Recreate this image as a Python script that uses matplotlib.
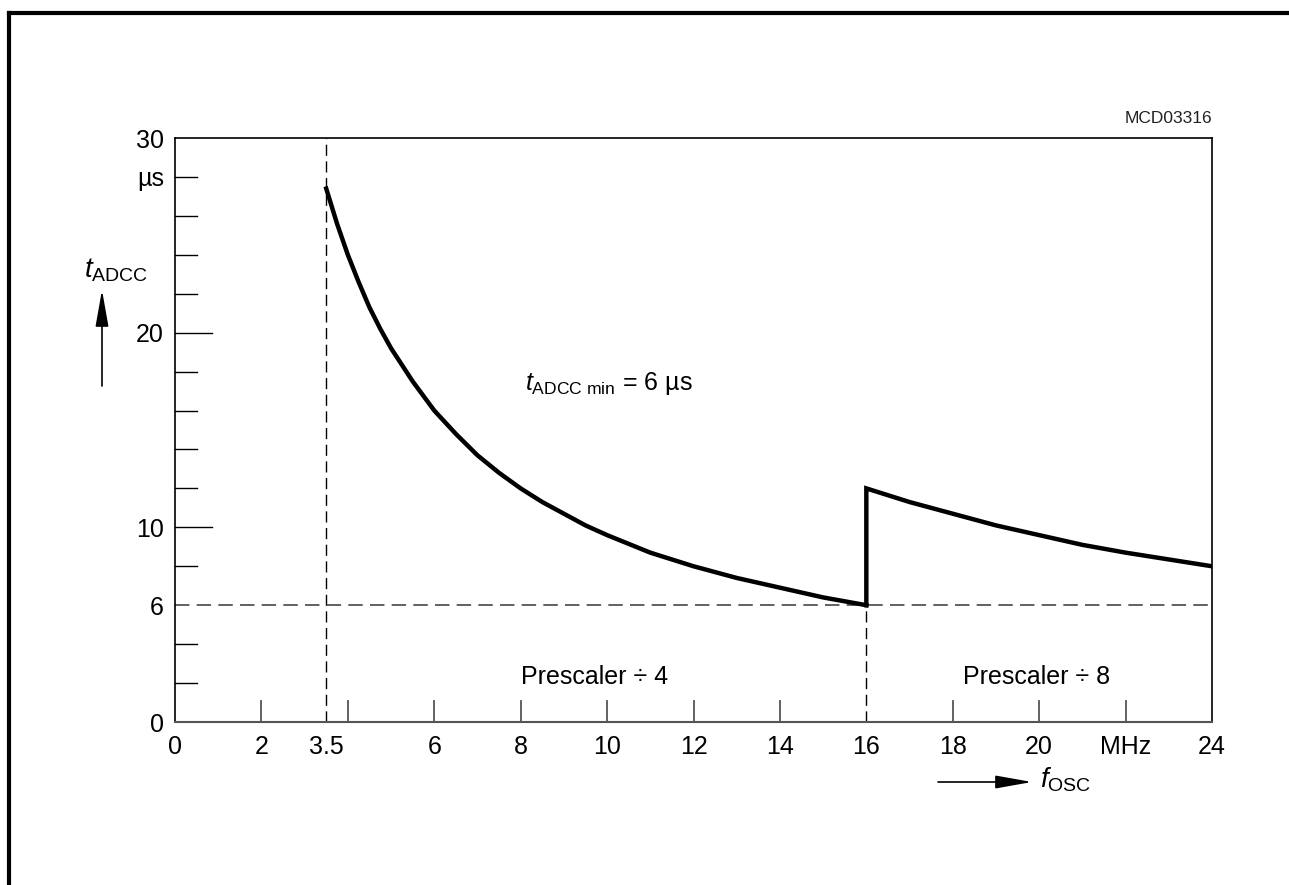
import matplotlib
matplotlib.use("Agg")
import matplotlib.pyplot as plt
from matplotlib.lines import Line2D

plt.rcParams["font.family"] = ["Liberation Sans", "DejaVu Sans"]
plt.rcParams["mathtext.fontset"] = "custom"
plt.rcParams["mathtext.rm"] = "Liberation Sans"
plt.rcParams["mathtext.it"] = "Liberation Sans:italic"

# conversion time vs oscillator frequency
f_div4 = [3.5, 3.75, 4, 4.25, 4.5, 4.75, 5, 5.5, 6, 6.5, 7, 7.5, 8, 8.5, 9, 9.5, 10,
          11, 12, 13, 14, 15, 16]
t_div4 = [27.4, 25.6, 24.0, 22.6, 21.3, 20.2, 19.2, 17.5, 16.0, 14.8, 13.7, 12.8, 12.0,
          11.3, 10.7, 10.1, 9.6, 8.7, 8.0, 7.4, 6.9, 6.4, 6.0]
f_div8 = [16, 16, 17, 18, 19, 20, 21, 22, 23, 24]
t_div8 = [6.0, 12.0, 11.3, 10.7, 10.1, 9.6, 9.1, 8.7, 8.35, 8.0]

x_ticks = [0, 2, 3.5, 6, 8, 10, 12, 14, 16, 18, 20, 22, 24]
x_labels = ["0", "2", "3.5", "6", "8", "10", "12", "14", "16", "18", "20", "MHz", "24"]
x_marks = [2, 4, 6, 8, 10, 12, 14, 18, 20, 22]
y_ticks = [0, 6, 10, 20, 28, 30]
y_labels = ["0", "6", "10", "20", "µs", "30"]
y_minor = [2, 4, 8, 12, 14, 16, 18, 22, 24, 26, 28]
y_major = [10, 20]
t_min = 6
f_low, f_switch = 3.5, 16

fig = plt.figure(figsize=(12.89, 8.85), dpi=100)
ax = fig.add_axes([175 / 1289, 1 - 722 / 885, 1037 / 1289, 584 / 885])

# page frame (top and left edges only)
fig.add_artist(Line2D([9 / 1289, 9 / 1289], [0, 1 - 13 / 885], transform=fig.transFigure,
                      color="black", lw=3))
fig.add_artist(Line2D([9 / 1289, 1], [1 - 13 / 885, 1 - 13 / 885], transform=fig.transFigure,
                      color="black", lw=3))

grey = "#555555"
dash = (0, (8, 4))
ax.plot([f_low, f_low], [0, 30], color="black", lw=1, linestyle=dash)
ax.plot([0, 24], [t_min, t_min], color=grey, lw=1.3, linestyle=dash)
ax.plot([f_switch, f_switch], [0, t_min], color="black", lw=1, linestyle=dash)

ax.plot(f_div4, t_div4, color="black", lw=3.2, solid_joinstyle="round")
ax.plot(f_div8, t_div8, color="black", lw=3.2, solid_joinstyle="miter")

ax.set_xlim(0, 24)
ax.set_ylim(0, 30)

# inward tick marks drawn as short lines
for x in x_marks:
    ax.plot([x, x], [0, 1.1], color=grey, lw=1.3, clip_on=False)
for y in y_minor:
    ax.plot([0, 0.5], [y, y], color="black", lw=1, clip_on=False)
for y in y_major:
    ax.plot([0, 0.85], [y, y], color="black", lw=1, clip_on=False)

ax.set_xticks(x_ticks)
ax.set_xticklabels(x_labels)
ax.set_yticks(y_ticks)
ax.set_yticklabels(y_labels)
ax.tick_params(axis="both", length=0, labelsize=18)
ax.tick_params(axis="x", pad=9)
ax.tick_params(axis="y", pad=8)

for side in ["left", "top", "right"]:
    ax.spines[side].set_color("black")
    ax.spines[side].set_linewidth(1.2)
ax.spines["bottom"].set_color(grey)
ax.spines["bottom"].set_linewidth(1.5)

ax.text(9.7, 2.3, "Prescaler ÷ 4", fontsize=18, ha="center", va="center")
ax.text(19.95, 2.3, "Prescaler ÷ 8", fontsize=18, ha="center", va="center")
ax.text(8.1, 17.4, r"$t_\mathrm{ADCC\ min}$ = 6 µs", fontsize=18, ha="left", va="center")
ax.text(24, 30.6, "MCD03316", fontsize=12.5, ha="right", va="bottom", color="#222222")

# axis labels with arrows
arrow = dict(arrowstyle="-|>,head_length=0.9,head_width=0.16", mutation_scale=25,
             color="black", lw=1.2, shrinkA=0, shrinkB=0)
fig.text(84 / 1289, 1 - 270 / 885, r"$t_\mathrm{ADCC}$", fontsize=20, ha="left", va="center")
fig.add_artist(plt.Annotation("", xy=(102 / 1289, 1 - 290 / 885), xytext=(102 / 1289, 1 - 386 / 885),
                              xycoords="figure fraction", arrowprops=arrow))
fig.add_artist(plt.Annotation("", xy=(1032 / 1289, 1 - 782 / 885), xytext=(938 / 1289, 1 - 782 / 885),
                              xycoords="figure fraction", arrowprops=arrow))
fig.text(1040 / 1289, 1 - 780 / 885, r"$f_\mathrm{OSC}$", fontsize=20, ha="left", va="center")

fig.savefig("out.png", dpi=100)
